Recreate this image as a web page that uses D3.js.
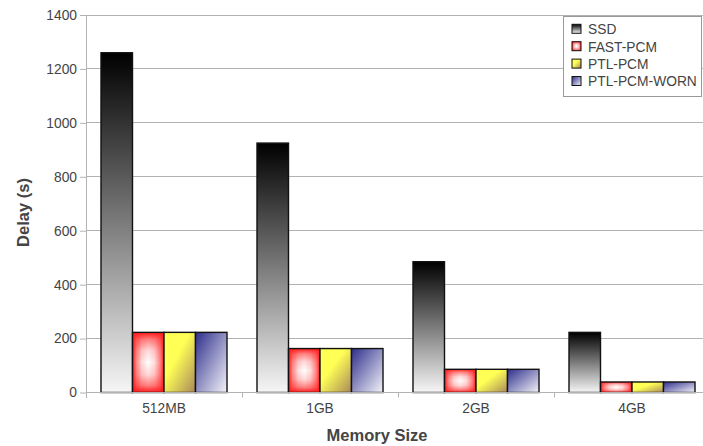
<!DOCTYPE html>
<html>
<head>
<meta charset="utf-8">
<script src="https://cdn.jsdelivr.net/npm/d3@7"></script>
<style>
  html, body { margin: 0; padding: 0; background: #fff; }
  svg { display: block; font-family: "Liberation Sans", Arial, sans-serif; }
</style>
</head>
<body>
<svg id="chart" width="703" height="446"></svg>
<script>
// Delay per memory size for each storage configuration
const categories = ["512MB", "1GB", "2GB", "4GB"];
const seriesNames = ["SSD", "FAST-PCM", "PTL-PCM", "PTL-PCM-WORN"];
const ssd = [1260, 925, 485, 223];
const fastPcm = [223, 163, 86, 39];
const ptlPcm = [223, 163, 86, 39];
const ptlPcmWorn = [223, 163, 86, 39];
const yTicks = [0, 200, 400, 600, 800, 1000, 1200, 1400];

const seriesValues = [ssd, fastPcm, ptlPcm, ptlPcmWorn];

const svg = d3.select("#chart");
const W = 703, H = 446;
const x0 = 86, x1 = 710, yTop = 15, yBot = 392.5;
const labelSize = 13.8, titleSize = 16.5;

const x = d3.scaleBand().domain(categories).range([x0, x1]).paddingInner(0).paddingOuter(0);
const xs = d3.scaleBand().domain(seriesNames).range([0, x.bandwidth()]).paddingOuter(0.476).paddingInner(0);
const y = d3.scaleLinear().domain([0, 1400]).range([yBot, yTop]);

// ---- gradients ----
const defs = svg.append("defs");

const gSsd = defs.append("linearGradient").attr("id", "g-ssd")
  .attr("x1", 0).attr("y1", 0).attr("x2", 0).attr("y2", 1);
gSsd.append("stop").attr("offset", "0%").attr("stop-color", "#000");
gSsd.append("stop").attr("offset", "100%").attr("stop-color", "#f6f6f6");

const gYel = defs.append("linearGradient").attr("id", "g-yel")
  .attr("x1", 0).attr("y1", 0).attr("x2", 1).attr("y2", 1);
gYel.append("stop").attr("offset", "0%").attr("stop-color", "#ffff55");
gYel.append("stop").attr("offset", "40%").attr("stop-color", "#ffff55");
gYel.append("stop").attr("offset", "100%").attr("stop-color", "#a8885a");

const gBlu = defs.append("linearGradient").attr("id", "g-blu")
  .attr("x1", 0).attr("y1", 0).attr("x2", 1).attr("y2", 1);
gBlu.append("stop").attr("offset", "0%").attr("stop-color", "#2e2e8c");
gBlu.append("stop").attr("offset", "100%").attr("stop-color", "#f4f4fa");

// rectangular highlight for the red bars: product of horizontal and vertical ramps
function ramp(id, horizontal) {
  const g = defs.append("linearGradient").attr("id", id)
    .attr("x1", 0).attr("y1", 0).attr("x2", horizontal ? 1 : 0).attr("y2", horizontal ? 0 : 1);
  [[0, "#000"], [0.12, "#777"], [0.3, "#d8d8d8"], [0.5, "#fff"], [0.7, "#d8d8d8"], [0.88, "#777"], [1, "#000"]]
    .forEach(([o, c]) => g.append("stop").attr("offset", o).attr("stop-color", c));
}
ramp("g-h", true);
ramp("g-v", false);
defs.append("mask").attr("id", "m-h").attr("maskContentUnits", "objectBoundingBox")
  .append("rect").attr("width", 1).attr("height", 1).attr("fill", "url(#g-h)");
defs.append("mask").attr("id", "m-v").attr("maskContentUnits", "objectBoundingBox")
  .append("rect").attr("width", 1).attr("height", 1).attr("fill", "url(#g-v)");

const fills = ["url(#g-ssd)", "#ff1a1a", "url(#g-yel)", "url(#g-blu)"];

const grey = "#b3b3b3", textCol = "#444";

// ---- gridlines ----
svg.append("g").selectAll("line").data(yTicks).join("line")
  .attr("x1", x0).attr("x2", W).attr("y1", d => y(d)).attr("y2", d => y(d))
  .attr("stroke", grey).attr("stroke-width", 1).attr("shape-rendering", "crispEdges");

// ---- bars ----
function drawBar(g, xPos, w, v, si) {
  const yy = y(v), h = yBot - yy;
  g.append("rect").attr("x", xPos).attr("y", yy).attr("width", w).attr("height", h)
    .attr("fill", fills[si]);
  if (si === 1) {
    g.append("g").attr("mask", "url(#m-v)")
      .append("rect").attr("x", xPos).attr("y", yy).attr("width", w).attr("height", h)
      .attr("fill", "#fff").attr("mask", "url(#m-h)");
  }
  g.append("rect").attr("x", xPos).attr("y", yy).attr("width", w).attr("height", h)
    .attr("fill", "none").attr("stroke", "#111").attr("stroke-width", 1.4);
}

const barsG = svg.append("g");
categories.forEach((c, ci) => {
  seriesNames.forEach((s, si) => {
    drawBar(barsG, x(c) + xs(s), xs.bandwidth(), seriesValues[si][ci], si);
  });
});

// ---- axes ----
const yAxis = svg.append("g").attr("transform", `translate(${x0},0)`)
  .call(d3.axisLeft(y).tickValues(yTicks).tickSize(6).tickPadding(3).tickFormat(d3.format("d")));
yAxis.select(".domain").remove();
yAxis.selectAll(".tick line").attr("stroke", grey);
yAxis.selectAll(".tick text").attr("fill", textCol).attr("font-size", labelSize)
  .attr("font-family", "Liberation Sans, Arial, sans-serif");
svg.append("line").attr("x1", x0).attr("x2", x0).attr("y1", yTop).attr("y2", yBot + 5)
  .attr("stroke", grey).attr("shape-rendering", "crispEdges");

const xAxis = svg.append("g").attr("transform", `translate(0,${yBot})`)
  .call(d3.axisBottom(x).tickSize(0).tickPadding(11));
xAxis.select(".domain").remove();
xAxis.selectAll(".tick text").attr("fill", textCol).attr("font-size", labelSize)
  .attr("font-family", "Liberation Sans, Arial, sans-serif");
svg.append("line").attr("x1", x0).attr("x2", W).attr("y1", yBot).attr("y2", yBot)
  .attr("stroke", grey).attr("shape-rendering", "crispEdges");
// separators between categories
svg.append("g").selectAll("line").data(categories.slice(1)).join("line")
  .attr("x1", d => Math.round(x(d)) + 0.5).attr("x2", d => Math.round(x(d)) + 0.5)
  .attr("y1", yBot).attr("y2", yBot + 5).attr("stroke", grey);

// ---- axis titles ----
svg.append("text").attr("x", 377).attr("y", 440.5).attr("text-anchor", "middle")
  .attr("font-size", titleSize).attr("font-weight", "bold").attr("fill", textCol).text("Memory Size");
svg.append("text").attr("transform", "translate(28.5,212.5) rotate(-90)").attr("text-anchor", "middle")
  .attr("font-size", titleSize).attr("font-weight", "bold").attr("fill", textCol).text("Delay (s)");

// ---- legend ----
const lg = svg.append("g");
lg.append("rect").attr("x", 563.5).attr("y", 16.5).attr("width", 138).attr("height", 80)
  .attr("fill", "#fff").attr("stroke", "#999");
seriesNames.forEach((s, i) => {
  const cy = 29.3 + i * 17.4;
  const row = lg.append("g");
  row.append("rect").attr("x", 572).attr("y", cy - 5).attr("width", 9).attr("height", 9)
    .attr("fill", fills[i]);
  if (i === 1) {
    row.append("g").attr("mask", "url(#m-v)")
      .append("rect").attr("x", 572).attr("y", cy - 5).attr("width", 9).attr("height", 9)
      .attr("fill", "#fff").attr("mask", "url(#m-h)");
  }
  row.append("rect").attr("x", 572).attr("y", cy - 5).attr("width", 9).attr("height", 9)
    .attr("fill", "none").attr("stroke", "#111").attr("stroke-width", 1);
  row.append("text").attr("x", 588).attr("y", cy).attr("dy", "0.35em")
    .attr("font-size", labelSize).attr("fill", textCol).text(s);
});
</script>
</body>
</html>
